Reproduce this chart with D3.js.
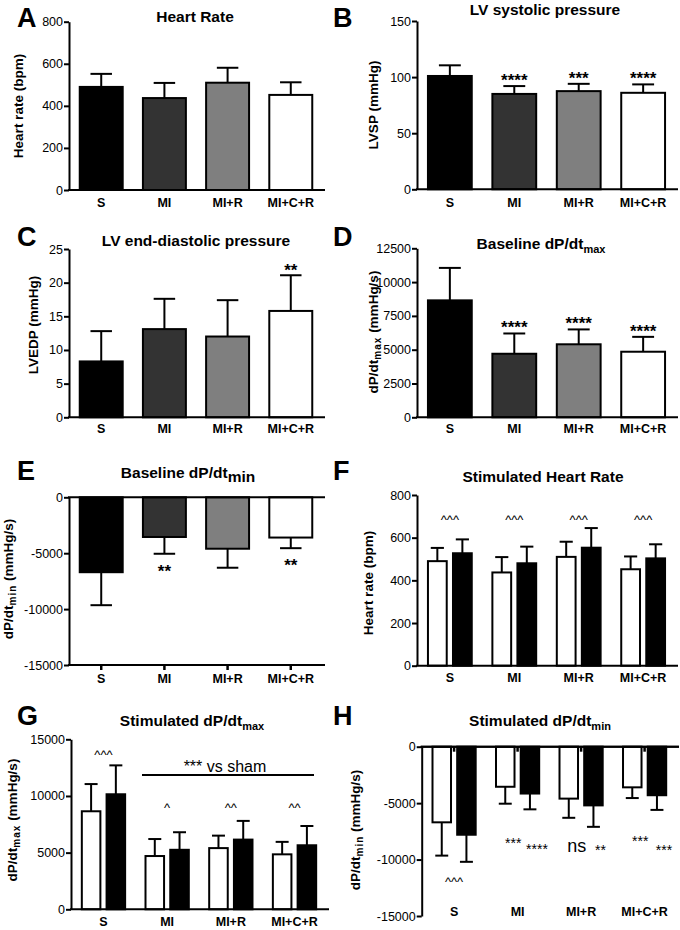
<!DOCTYPE html>
<html>
<head>
<meta charset="utf-8">
<script src="https://cdn.jsdelivr.net/npm/d3@7"></script>
<style>
  body { margin: 0; background: #fff; }
  text { font-family: Arial, "Liberation Sans", sans-serif; fill: #000; }
</style>
</head>
<body>
<div id="chart"></div>
<script>
const groups = ["S", "MI", "MI+R", "MI+C+R"]
const fills = ["#000", "#333", "#7f7f7f", "#fff"]

// baseline values (mean and upper/lower error)
const hrMean = [490, 437, 510, 452],         hrErr = [62, 72, 71, 60]
const lvspMean = [101, 85, 87.5, 86],        lvspErr = [9.5, 7, 6.5, 7.5]
const lvedpMean = [8.3, 13.1, 12.0, 15.8],   lvedpErr = [4.5, 4.5, 5.4, 5.3]
const dpMaxMean = [8650, 4700, 5400, 4850],  dpMaxErr = [2400, 1500, 1100, 1100]
const dpMinMean = [-6700, -3550, -4600, -3600], dpMinErr = [2950, 1500, 1700, 950]
// stimulated values
const stimHrMean = [527, 480, 553, 503],     stimHrErr = [65, 78, 92, 66]
const stimMaxMean = [10150, 5250, 6150, 5650], stimMaxErr = [2550, 1550, 1650, 1700]
const stimMinMean = [-7800, -4150, -5200, -4300], stimMinErr = [2400, 1400, 1900, 1300]

// significance labels
const bStars = ["", "****", "***", "****"]
const cStars = ["", "", "", "**"]
const dStars = ["", "****", "****", "****"]
const eStars = ["", "**", "", "**"]
const fCarets = ["^^^", "^^^", "^^^", "^^^"]
const gCarets = ["^^^", "^", "^^", "^^"]
const hBaseStars = ["", "***", "ns", "***"]
const hStimStars = ["", "****", "**", "***"]
const hCarets = ["^^^", "", "", ""]

const svg = d3.select("#chart").append("svg")
  .attr("width", 680)
  .attr("height", 930)

function rich(t, main, sub, rest, subSize, subDy, spacing) {
  t.append("tspan").text(main)
  if (!sub) return
  t.append("tspan").attr("dy", subDy).style("font-size", subSize)
    .style("letter-spacing", spacing || 0).text(sub)
  if (rest) t.append("tspan").attr("dy", -subDy).style("letter-spacing", 0).text(rest)
}

function panel(p) {
  const g = svg.append("g")
  const x = d3.scaleBand().domain(groups).range([p.x0, p.x1]).paddingInner(0.32).paddingOuter(0.17)
  const y = d3.scaleLinear().domain(p.domain).range([p.yBot, p.yTop])
  const grouped = p.series.length > 1
  const xs = d3.scaleBand().domain(d3.range(p.series.length)).range([0, x.bandwidth()]).paddingInner(0.25)
  const bw = grouped ? xs.bandwidth() : x.bandwidth()
  const bx = (name, si) => x(name) + (grouped ? xs(si) : 0)
  const capW = grouped ? bw * 0.7 : bw * 0.5

  // letter + title
  g.append("text").attr("x", p.lx).attr("y", p.ly)
    .style("font-size", "27px").style("font-weight", "bold").text(p.letter)
  const t = g.append("text").attr("x", p.tx).attr("y", p.ty).attr("text-anchor", "middle")
    .style("font-size", "15.5px").style("font-weight", "bold")
  rich(t, p.title[0], p.title[1], null, p.title[2], p.title[3])

  // bars + error bars
  const ends = []
  p.series.forEach((s, si) => {
    const rows = groups.map((name, i) => {
      const v = s.values[i]
      return {name, i, v, end: v + Math.sign(v) * s.errs[i]}
    })
    ends.push(rows.map(d => d.end))
    g.selectAll(null).data(rows).enter().append("line")
      .attr("x1", d => bx(d.name, si) + bw / 2)
      .attr("x2", d => bx(d.name, si) + bw / 2)
      .attr("y1", d => y(d.v))
      .attr("y2", d => y(d.end))
      .attr("stroke", "#000").attr("stroke-width", 2)
    g.selectAll(null).data(rows).enter().append("line")
      .attr("x1", d => bx(d.name, si) + bw / 2 - capW / 2)
      .attr("x2", d => bx(d.name, si) + bw / 2 + capW / 2)
      .attr("y1", d => y(d.end))
      .attr("y2", d => y(d.end))
      .attr("stroke", "#000").attr("stroke-width", 2)
    g.selectAll(null).data(rows).enter().append("rect")
      .attr("x", d => bx(d.name, si))
      .attr("y", d => Math.min(y(0), y(d.v)))
      .attr("width", bw)
      .attr("height", d => Math.abs(y(d.v) - y(0)))
      .attr("fill", d => Array.isArray(s.fill) ? s.fill[d.i] : s.fill)
      .attr("stroke", "#000").attr("stroke-width", 2)
  })

  // y axis
  const ya = g.append("g").attr("transform", "translate(" + p.x0 + ",0)")
    .call(d3.axisLeft(y).tickValues(p.ticks).tickSize(5).tickSizeOuter(0).tickPadding(1)
      .tickFormat(d => String(d)))
  ya.select(".domain").attr("stroke-width", 2)
  ya.selectAll(".tick line").attr("stroke-width", 2)
  ya.selectAll(".tick text").style("font-size", "12.5px").attr("fill", "#1a1a1a")
    .style("font-family", "Arial, 'Liberation Sans', sans-serif")

  // x axis line at zero
  g.append("line").attr("x1", p.x0 - 1).attr("x2", p.x1 + 2)
    .attr("y1", y(0)).attr("y2", y(0))
    .attr("stroke", "#000").attr("stroke-width", 2)

  // category ticks (E bottom, H top)
  if (p.catTicks != null) {
    const xa = g.append("g").attr("transform", "translate(0," + y(p.catTicks) + ")")
      .call(d3.axisBottom(x).tickSize(5).tickSizeOuter(0).tickFormat(""))
    xa.select(".domain").attr("stroke-width", 2).attr("d", "M" + (p.x0 - 1) + ",0H" + (p.x1 + 2))
    xa.selectAll(".tick line").attr("stroke-width", 2.5)
  }

  // category labels
  g.selectAll(null).data(groups).enter().append("text")
    .attr("x", d => x(d) + x.bandwidth() / 2)
    .attr("y", p.labY)
    .attr("text-anchor", "middle")
    .style("font-size", "12.5px").style("font-weight", "bold")
    .text(d => d)

  // y title
  const yt = g.append("text")
    .attr("transform", "translate(" + p.yt[0] + "," + p.yt[1] + ") rotate(-90)")
    .attr("text-anchor", "middle")
    .style("font-size", "13.5px").style("font-weight", "bold")
  rich(yt, p.ytitle[0], p.ytitle[1], p.ytitle[2], "10px", 3, "1px")

  // annotations
  ;(p.notes || []).forEach(n => {
    groups.forEach((name, i) => {
      const txt = n.texts[i]
      if (!txt) return
      const cx = n.series == null ? x(name) + x.bandwidth() / 2 : bx(name, n.series) + bw / 2
      const by = n.base ? n.base[i] : y(ends[n.series][i]) + n.capOff
      g.append("text")
        .attr("x", cx + (n.dx || 0))
        .attr("y", by)
        .attr("text-anchor", "middle")
        .style("font-size", (txt === "ns" ? 18 : n.size) + "px")
        .style("font-weight", n.bold ? "bold" : "normal")
        .text(txt)
    })
  })
  return {g, x, y}
}

panel({
  letter: "A", lx: 17, ly: 27, title: ["Heart Rate"], tx: 195, ty: 22,
  x0: 69, x1: 323, yTop: 21.7, yBot: 190, domain: [0, 800], ticks: [0, 200, 400, 600, 800],
  ytitle: ["Heart rate (bpm)"], yt: [23, 106], labY: 206.5,
  series: [{values: hrMean, errs: hrErr, fill: fills}]
})

panel({
  letter: "B", lx: 333, ly: 27, title: ["LV systolic pressure"], tx: 545, ty: 15,
  x0: 417, x1: 676, yTop: 21, yBot: 189.3, domain: [0, 150], ticks: [0, 50, 100, 150],
  ytitle: ["LVSP (mmHg)"], yt: [378, 105], labY: 206.5,
  series: [{values: lvspMean, errs: lvspErr, fill: fills}],
  notes: [{texts: bStars, series: 0, size: 17, bold: true, capOff: 0}]
})

panel({
  letter: "C", lx: 17, ly: 246, title: ["LV end-diastolic pressure"], tx: 196, ty: 246,
  x0: 69, x1: 323, yTop: 249, yBot: 417.3, domain: [0, 25], ticks: [0, 5, 10, 15, 20, 25],
  ytitle: ["LVEDP (mmHg)"], yt: [38, 325], labY: 433,
  series: [{values: lvedpMean, errs: lvedpErr, fill: fills}],
  notes: [{texts: cStars, series: 0, size: 17, bold: true, capOff: 1}]
})

panel({
  letter: "D", lx: 333, ly: 246, title: ["Baseline dP/dt", "max", "11px", 4], tx: 541, ty: 249,
  x0: 417, x1: 676, yTop: 248.3, yBot: 417.3, domain: [0, 12500],
  ticks: [0, 2500, 5000, 7500, 10000, 12500],
  ytitle: ["dP/dt", "max", " (mmHg/s)"], yt: [378, 332], labY: 433,
  series: [{values: dpMaxMean, errs: dpMaxErr, fill: fills}],
  notes: [{texts: dStars, series: 0, size: 17, bold: true, capOff: 0}]
})

panel({
  letter: "E", lx: 17, ly: 480, title: ["Baseline dP/dt", "min", "15.5px", 4], tx: 188, ty: 478,
  x0: 69, x1: 323, yTop: 497.3, yBot: 665, domain: [-15000, 0],
  ticks: [-15000, -10000, -5000, 0],
  ytitle: ["dP/dt", "min", " (mmHg/s)"], yt: [13, 579], labY: 683, catTicks: -15000,
  series: [{values: dpMinMean, errs: dpMinErr, fill: fills}],
  notes: [{texts: eStars, series: 0, size: 17, bold: true, capOff: 23}]
})

panel({
  letter: "F", lx: 333, ly: 480, title: ["Stimulated Heart Rate"], tx: 543, ty: 481.5,
  x0: 417, x1: 676, yTop: 495, yBot: 665.7, domain: [0, 800], ticks: [0, 200, 400, 600, 800],
  ytitle: ["Heart rate (bpm)"], yt: [373, 583], labY: 682,
  series: [{values: hrMean, errs: hrErr, fill: "#fff"},
           {values: stimHrMean, errs: stimHrErr, fill: "#000"}],
  notes: [{texts: fCarets, series: null, size: 13, base: [523.5, 523.5, 523.5, 523.5]}]
})

const G = panel({
  letter: "G", lx: 17, ly: 725, title: ["Stimulated dP/dt", "max", "11px", 4], tx: 192, ty: 726,
  x0: 71, x1: 327, yTop: 739.3, yBot: 909.3, domain: [0, 15000], ticks: [0, 5000, 10000, 15000],
  ytitle: ["dP/dt", "max", " (mmHg/s)"], yt: [17, 820], labY: 926,
  series: [{values: dpMaxMean, errs: dpMaxErr, fill: "#fff"},
           {values: stimMaxMean, errs: stimMaxErr, fill: "#000"}],
  notes: [{texts: gCarets, series: null, size: 13, base: [758.5, 811.5, 811.5, 811.5]}]
})
G.g.append("line").attr("x1", 142).attr("x2", 314).attr("y1", 775).attr("y2", 775)
  .attr("stroke", "#000").attr("stroke-width", 2)
G.g.append("text").attr("x", 225).attr("y", 771.5).attr("text-anchor", "middle")
  .style("font-size", "16px").text("*** vs sham")

panel({
  letter: "H", lx: 333, ly: 725, title: ["Stimulated dP/dt", "min", "11px", 4], tx: 540, ty: 726,
  x0: 421.7, x1: 677, yTop: 746.7, yBot: 916, domain: [-15000, 0],
  ticks: [-15000, -10000, -5000, 0],
  ytitle: ["dP/dt", "min", " (mmHg/s)"], yt: [360, 830], labY: 916, catTicks: 0,
  series: [{values: dpMinMean, errs: dpMinErr, fill: "#fff"},
           {values: stimMinMean, errs: stimMinErr, fill: "#000"}],
  notes: [
    {texts: hBaseStars, series: 0, size: 14, dx: 8, base: [0, 847.6, 852, 845.6]},
    {texts: hStimStars, series: 1, size: 14, dx: 7, base: [0, 854, 855, 855]},
    {texts: hCarets, series: null, size: 13, base: [885.5, 0, 0, 0]}
  ]
})
</script>
</body>
</html>
